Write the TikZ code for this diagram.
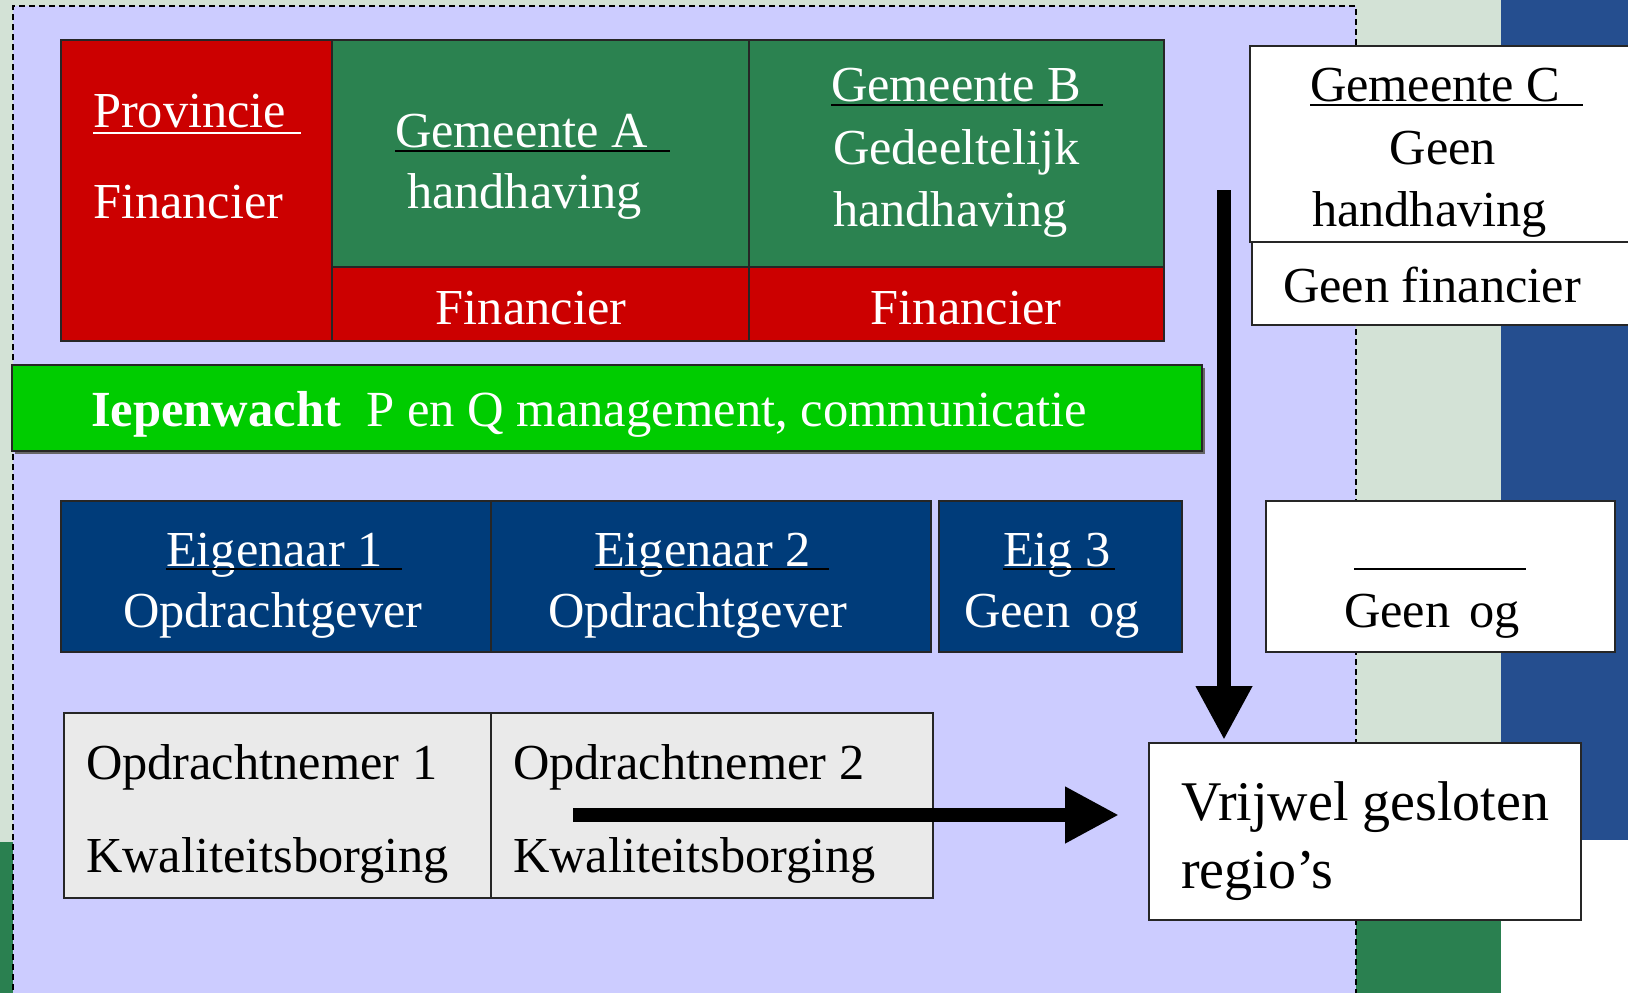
\documentclass[tikz,border=0pt]{standalone}
\usepackage{fontspec}
\setmainfont{Liberation Serif}
\usetikzlibrary{arrows.meta}
\definecolor{lav}{HTML}{CCCCFF}
\definecolor{rd}{HTML}{CC0000}
\definecolor{gm}{HTML}{2B8250}
\definecolor{bgreen}{HTML}{00CC00}
\definecolor{eblue}{HTML}{003C7A}
\definecolor{lgray}{HTML}{EAEAEA}
\definecolor{lgreen}{HTML}{D3E2D6}
\definecolor{dgreen}{HTML}{2A8050}
\definecolor{rblue}{HTML}{254E8F}
\tikzset{
  box/.style={draw=black!85, line width=1.5pt, anchor=north west, inner sep=0pt, outer sep=0pt},
  txt/.style={inner sep=0pt, outer sep=0pt, font=\fontsize{50.4}{60}\selectfont},
  wtxt/.style={txt, text=white},
  btxt/.style={txt, text=black},
  uline/.style={line width=2.5pt},
  bigarrow/.style={line width=14pt, -{Triangle[length=54pt,width=53pt]}},
}
\begin{document}
\begin{tikzpicture}[x=1pt,y=-1pt]
\useasboundingbox (0,0) rectangle (1628,993);
% slide background
\fill[lgreen] (0,0) rectangle (1501,842);
\fill[dgreen] (0,842) rectangle (1501,993);
\fill[rblue] (1501,0) rectangle (1628,840);
\fill[white] (1501,840) rectangle (1628,993);
% lavender dashed panel
\fill[lav] (13,6) rectangle (1356,1000);
\draw[line width=1.3pt, dash pattern=on 6pt off 4pt] (13,1000) -- (13,6) -- (1356,6) -- (1356,1000);

% top row
\node[box, fill=rd, minimum width=271pt, minimum height=301pt] (prov) at (61,40) {};
\node[box, fill=gm, minimum width=417pt, minimum height=227pt] (gemA) at (332,40) {};
\node[box, fill=rd, minimum width=417pt, minimum height=74pt] (finA) at (332,267) {};
\node[box, fill=gm, minimum width=415pt, minimum height=227pt] (gemB) at (749,40) {};
\node[box, fill=rd, minimum width=415pt, minimum height=74pt] (finB) at (749,267) {};
\node[box, fill=white, minimum width=400pt, minimum height=196pt] (gemC) at (1250,46) {};
\node[box, fill=white, minimum width=400pt, minimum height=83pt] (finC) at (1252,242) {};

\node[wtxt, anchor=base west] (tprov) at (93,127) {Provincie};
\draw[uline, white] (93,133) -- (301,133);
\node[wtxt, anchor=base west] (tprovf) at (93,218) {Financier};

\node[wtxt, anchor=base west] (tgemA) at (395,147) {Gemeente A};
\draw[uline, black] (395,151) -- (670,151);
\node[wtxt, anchor=base west] (thA) at (407,208) {handhaving};
\node[wtxt, anchor=base] (tfinA) at (531,324) {Financier};

\node[wtxt, anchor=base west] (tgemB) at (831,101) {Gemeente B};
\draw[uline, black] (831,105) -- (1103,105);
\node[wtxt, anchor=base west] (tgedB) at (833,164) {Gedeeltelijk};
\node[wtxt, anchor=base west] (thB) at (833,226) {handhaving};
\node[wtxt, anchor=base] (tfinB) at (966,324) {Financier};

\node[btxt, anchor=base west] (tgemC) at (1310,101) {Gemeente C};
\draw[uline, black] (1310,105) -- (1583,105);
\node[btxt, anchor=base] (tgeenC) at (1443,164) {Geen};
\node[btxt, anchor=base west] (thC) at (1312,226) {handhaving};
\node[btxt, anchor=base west] (tfinC) at (1283,302) {Geen financier};

% Iepenwacht bar
\fill[black!60] (15,368) rectangle (1205,454);
\node[box, fill=bgreen, minimum width=1190pt, minimum height=86pt] (iep) at (12,365) {};
\node[wtxt, anchor=base west, font=\fontsize{50.6}{60}\selectfont] (tiep) at (91,426) {\textbf{Iepenwacht}\ \ P en Q management, communicatie};

% owners row
\node[box, fill=eblue, minimum width=430pt, minimum height=151pt] (eig1) at (61,501) {};
\node[box, fill=eblue, minimum width=440pt, minimum height=151pt] (eig2) at (491,501) {};
\node[box, fill=eblue, minimum width=243pt, minimum height=151pt] (eig3) at (939,501) {};
\node[box, fill=white, minimum width=349pt, minimum height=151pt] (geenog) at (1266,501) {};

\node[wtxt, anchor=base west] (te1) at (166,566) {Eigenaar 1};
\draw[uline, black] (166,569) -- (402,569);
\node[wtxt, anchor=base west] (to1) at (123,627) {Opdrachtgever};
\node[wtxt, anchor=base west] (te2) at (594,566) {Eigenaar 2};
\draw[uline, black] (594,569) -- (829,569);
\node[wtxt, anchor=base west] (to2) at (548,627) {Opdrachtgever};
\node[wtxt, anchor=base west] (te3) at (1003,566) {Eig 3};
\draw[uline, black] (1003,569) -- (1115,569);
\node[wtxt, anchor=base west] (to3) at (964,627) {Geen\hspace{19pt}og};
\draw[uline, black] (1354,569) -- (1526,569);
\node[btxt, anchor=base west] (tog4) at (1344,627) {Geen\hspace{19pt}og};

% contractors row
\node[box, fill=lgray, minimum width=427pt, minimum height=185pt] (on1) at (64,713) {};
\node[box, fill=lgray, minimum width=442pt, minimum height=185pt] (on2) at (491,713) {};
\node[btxt, anchor=base west] (ton1) at (86,779) {Opdrachtnemer 1};
\node[btxt, anchor=base west] (tkw1) at (86,872) {Kwaliteitsborging};
\node[btxt, anchor=base west] (ton2) at (513,779) {Opdrachtnemer 2};
\node[btxt, anchor=base west] (tkw2) at (513,872) {Kwaliteitsborging};

% result box
\node[box, fill=white, minimum width=432pt, minimum height=177pt] (vr) at (1149,743) {};
\node[btxt, anchor=base west, font=\fontsize{56}{66}\selectfont] (tvr1) at (1181,820) {Vrijwel gesloten};
\node[btxt, anchor=base west, font=\fontsize{56}{66}\selectfont] (tvr2) at (1181,888) {regio’s};

% arrows
\coordinate (vstart) at (1224,190);
\coordinate (hstart) at (573,815);
\draw[bigarrow, shorten >=3pt] (vstart) -- (vstart |- vr.north);
\draw[bigarrow, shorten >=30pt] (hstart) -- (hstart -| vr.west);
\end{tikzpicture}
\end{document}
